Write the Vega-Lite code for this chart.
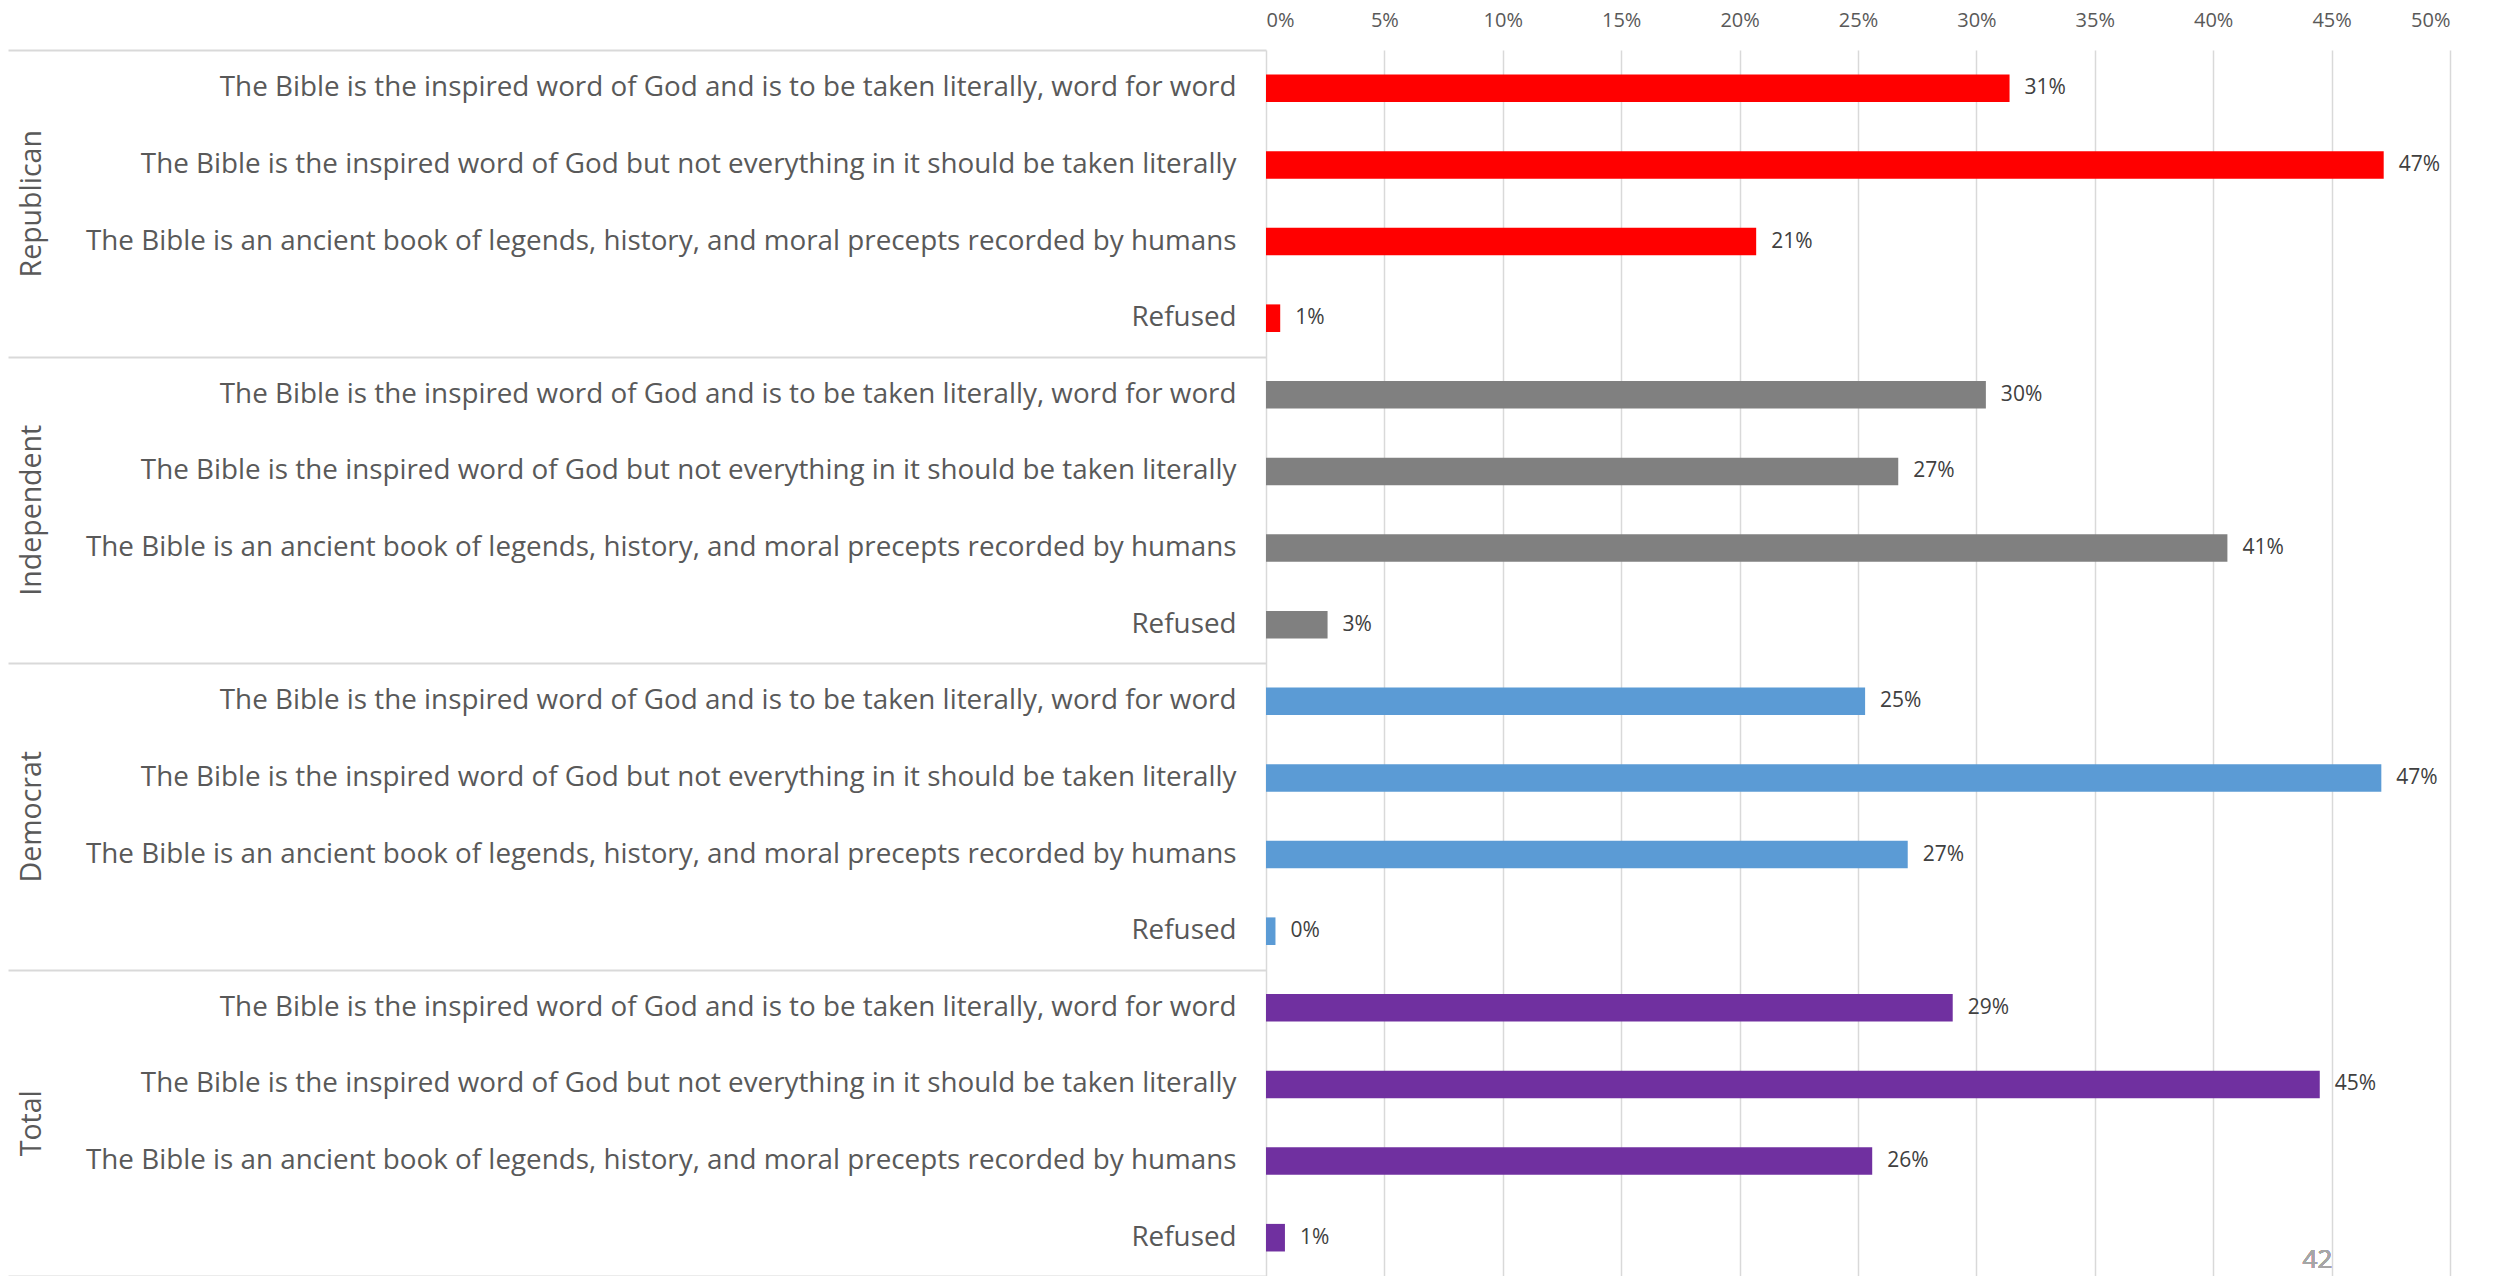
{
  "$schema": "https://vega.github.io/schema/vega-lite/v6.json",
  "width": 1184,
  "height": 1226,
  "autosize": {"type": "none"},
  "padding": {"left": 1266, "top": 50, "right": 46, "bottom": 0},
  "background": "white",
  "config": {"view": {"stroke": null}, "font": "Open Sans"},
  "data": {
    "values": [
      {"group": "Republican", "response": "The Bible is the inspired word of God and is to be taken literally, word for word", "key": "Republican|The Bible is the inspired word of God and is to be taken literally, word for word", "value": 0.314},
      {"group": "Republican", "response": "The Bible is the inspired word of God but not everything in it should be taken literally", "key": "Republican|The Bible is the inspired word of God but not everything in it should be taken literally", "value": 0.472},
      {"group": "Republican", "response": "The Bible is an ancient book of legends, history, and moral precepts recorded by humans", "key": "Republican|The Bible is an ancient book of legends, history, and moral precepts recorded by humans", "value": 0.207},
      {"group": "Republican", "response": "Refused", "key": "Republican|Refused", "value": 0.006},
      {"group": "Independent", "response": "The Bible is the inspired word of God and is to be taken literally, word for word", "key": "Independent|The Bible is the inspired word of God and is to be taken literally, word for word", "value": 0.304},
      {"group": "Independent", "response": "The Bible is the inspired word of God but not everything in it should be taken literally", "key": "Independent|The Bible is the inspired word of God but not everything in it should be taken literally", "value": 0.267},
      {"group": "Independent", "response": "The Bible is an ancient book of legends, history, and moral precepts recorded by humans", "key": "Independent|The Bible is an ancient book of legends, history, and moral precepts recorded by humans", "value": 0.406},
      {"group": "Independent", "response": "Refused", "key": "Independent|Refused", "value": 0.026},
      {"group": "Democrat", "response": "The Bible is the inspired word of God and is to be taken literally, word for word", "key": "Democrat|The Bible is the inspired word of God and is to be taken literally, word for word", "value": 0.253},
      {"group": "Democrat", "response": "The Bible is the inspired word of God but not everything in it should be taken literally", "key": "Democrat|The Bible is the inspired word of God but not everything in it should be taken literally", "value": 0.471},
      {"group": "Democrat", "response": "The Bible is an ancient book of legends, history, and moral precepts recorded by humans", "key": "Democrat|The Bible is an ancient book of legends, history, and moral precepts recorded by humans", "value": 0.271},
      {"group": "Democrat", "response": "Refused", "key": "Democrat|Refused", "value": 0.004},
      {"group": "Total", "response": "The Bible is the inspired word of God and is to be taken literally, word for word", "key": "Total|The Bible is the inspired word of God and is to be taken literally, word for word", "value": 0.290},
      {"group": "Total", "response": "The Bible is the inspired word of God but not everything in it should be taken literally", "key": "Total|The Bible is the inspired word of God but not everything in it should be taken literally", "value": 0.445},
      {"group": "Total", "response": "The Bible is an ancient book of legends, history, and moral precepts recorded by humans", "key": "Total|The Bible is an ancient book of legends, history, and moral precepts recorded by humans", "value": 0.256},
      {"group": "Total", "response": "Refused", "key": "Total|Refused", "value": 0.008}
    ]
  },
  "layer": [
    {
      "layer": [
        {
          "mark": {"type": "bar", "height": {"band": 0.36}},
          "encoding": {
            "y": {
              "field": "key", "type": "nominal", "sort": null,
              "scale": {"paddingInner": 0, "paddingOuter": 0},
              "axis": {"title": null, "ticks": false, "domain": false, "labelPadding": 30, "labelFontSize": 27.8, "labelColor": "#595959", "labelLimit": 1400, "labelExpr": "split(datum.value, '|')[1]"}
            },
            "x": {
              "field": "value", "type": "quantitative",
              "scale": {"domain": [0, 0.5], "nice": false},
              "axis": {"orient": "top", "title": null, "format": ".0%", "values": [0, 0.05, 0.1, 0.15, 0.2, 0.25, 0.3, 0.35, 0.4, 0.45, 0.5], "domain": false, "ticks": false, "grid": true, "gridColor": "#d9d9d9", "gridWidth": 1.5, "labelFontSize": 20, "labelColor": "#595959", "labelPadding": 20}
            },
            "color": {
              "field": "group", "type": "nominal", "legend": null,
              "scale": {"domain": ["Republican", "Independent", "Democrat", "Total"], "range": ["#ff0000", "#808080", "#5b9bd5", "#7030a0"]}
            }
          }
        },
        {
          "mark": {"type": "text", "align": "left", "baseline": "middle", "dx": 15, "fontSize": 21, "color": "#404040"},
          "encoding": {
            "y": {
              "field": "key", "type": "nominal", "sort": null,
              "scale": {"paddingInner": 0, "paddingOuter": 0},
              "axis": {"title": null, "ticks": false, "domain": false, "labelPadding": 30, "labelFontSize": 27.8, "labelColor": "#595959", "labelLimit": 1400, "labelExpr": "split(datum.value, '|')[1]"}
            },
            "x": {"field": "value", "type": "quantitative"},
            "text": {"field": "value", "type": "quantitative", "format": ".0%"}
          }
        },
        {
          "mark": {"type": "text", "align": "center", "baseline": "middle", "dy": 22, "fontSize": 26, "color": "#a6a6a6"},
          "encoding": {
            "y": {
              "datum": "Total|Refused", "type": "nominal",
              "axis": {"title": null, "ticks": false, "domain": false, "labelPadding": 30, "labelFontSize": 27.8, "labelColor": "#595959", "labelLimit": 1400, "labelExpr": "split(datum.value, '|')[1]"}
            },
            "x": {"datum": 0.444, "type": "quantitative"},
            "text": {"value": "42"}
          }
        }
      ]
    },
    {
      "mark": {"type": "text"},
      "encoding": {
        "y": {
          "field": "group", "type": "nominal", "sort": null,
          "scale": {"domain": ["Republican", "Independent", "Democrat", "Total"], "paddingInner": 0, "paddingOuter": 0},
          "axis": {"title": null, "orient": "left", "domain": false, "ticks": true, "tickBand": "extent", "tickSize": 1258, "tickColor": "#d9d9d9", "tickWidth": 2, "labelAngle": -90, "labelAlign": "center", "labelBaseline": "bottom", "labelPadding": -38, "labelFontSize": 28.5, "labelColor": "#595959"}
        },
        "text": {"value": ""}
      }
    }
  ],
  "resolve": {"scale": {"y": "independent"}}
}
